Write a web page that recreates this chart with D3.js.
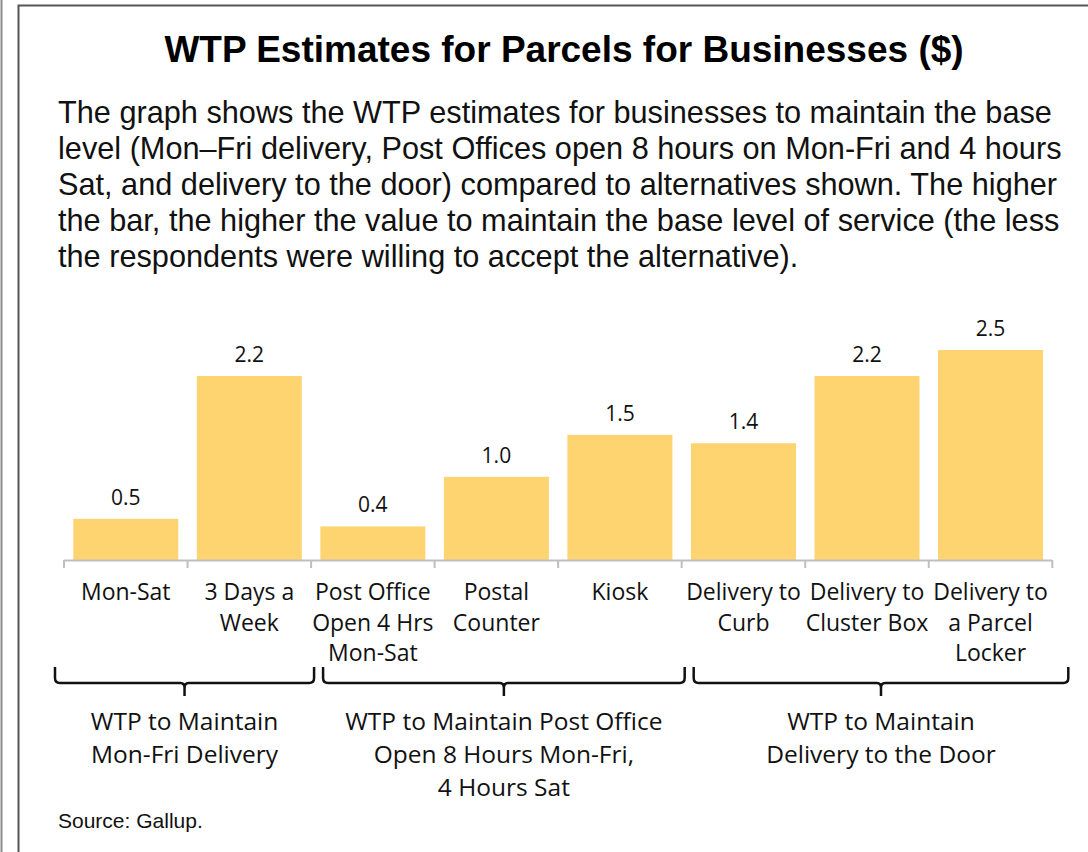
<!DOCTYPE html>
<html>
<head>
<meta charset="utf-8">
<script src="https://cdn.jsdelivr.net/npm/d3@7"></script>
<style>
  body { margin: 0; background: #fff; }
  svg { display: block; }
</style>
</head>
<body>
<svg width="1088" height="852"></svg>
<script>
// categories (each label is split into lines)
var categories = [
  ['Mon-Sat'],
  ['3 Days a', 'Week'],
  ['Post Office', 'Open 4 Hrs', 'Mon-Sat'],
  ['Postal', 'Counter'],
  ['Kiosk'],
  ['Delivery to', 'Curb'],
  ['Delivery to', 'Cluster Box'],
  ['Delivery to', 'a Parcel', 'Locker']
];

// WTP estimates ($)
var values = [0.49, 2.19, 0.40, 0.99, 1.49, 1.39, 2.19, 2.50];

// groups of categories: [first index, last index]
var groupSpans = [[0, 1], [2, 4], [5, 7]];
var groupLabels = [
  ['WTP to Maintain', 'Mon-Fri Delivery'],
  ['WTP to Maintain Post Office', 'Open 8 Hours Mon-Fri,', '4 Hours Sat'],
  ['WTP to Maintain', 'Delivery to the Door']
];

var titleText = 'WTP Estimates for Parcels for Businesses ($)';
var noteLines = [
  'The graph shows the WTP estimates for businesses to maintain the base',
  'level (Mon\u2013Fri delivery, Post Offices open 8 hours on Mon-Fri and 4 hours',
  'Sat, and delivery to the door) compared to alternatives shown. The higher',
  'the bar, the higher the value to maintain the base level of service (the less',
  'the respondents were willing to accept the alternative).'
];
var sourceText = 'Source: Gallup.';

var svg = d3.select('svg');
var labelFont = '"Open Sans", "Noto Sans", sans-serif';
var arial = '"Liberation Sans", Arial, sans-serif';

// frame
svg.append('line')
  .attr('x1', 1.5).attr('x2', 1.5).attr('y1', 0).attr('y2', 852)
  .attr('stroke', '#8a8a8a').attr('stroke-width', 2);
svg.append('path')
  .attr('d', 'M18.5,852 V5.5 H1088')
  .attr('fill', 'none').attr('stroke', '#555').attr('stroke-width', 2);

// title
svg.append('text')
  .attr('x', 564).attr('y', 62)
  .attr('text-anchor', 'middle')
  .style('font-family', arial).style('font-weight', 'bold').style('font-size', '37px')
  .text(titleText);

// description
svg.append('g').selectAll('text').data(noteLines)
  .enter().append('text')
    .attr('x', 58).attr('y', (d, i) => 123 + i * 36)
    .style('font-family', arial).style('font-size', '30.7px').style('fill', '#111')
    .text(d => d);

// scales
var x = d3.scaleBand()
  .domain(d3.range(values.length))
  .range([64, 1052.3])
  .paddingInner(0.15)
  .paddingOuter(0.075);

var y = d3.scaleLinear()
  .domain([0, 2.5])
  .range([560, 350]);

var fmt = d3.format('.1f');

// bars
svg.append('g').selectAll('rect').data(values)
  .enter().append('rect')
    .attr('x', (d, i) => x(i))
    .attr('y', d => y(d))
    .attr('width', x.bandwidth())
    .attr('height', d => y(0) - y(d))
    .attr('fill', '#FED470');

// value labels
svg.append('g').selectAll('text').data(values)
  .enter().append('text')
    .attr('x', (d, i) => x(i) + x.bandwidth() / 2)
    .attr('y', d => y(d) - 14)
    .attr('text-anchor', 'middle')
    .style('font-family', labelFont).style('font-size', '21px').style('fill', '#111')
    .text(d => fmt(d));

// axis line with ticks at the band boundaries
var half = x.step() * x.paddingInner() / 2;
var bounds = x.domain().map(i => x(i) - half).concat([x(values.length - 1) + x.bandwidth() + half]);
var axis = svg.append('g').attr('stroke', '#bfbfbf').attr('stroke-width', 2);
axis.append('line')
  .attr('x1', bounds[0]).attr('x2', bounds[bounds.length - 1])
  .attr('y1', y(0) + 0.5).attr('y2', y(0) + 0.5);
axis.selectAll('.tick').data(bounds)
  .enter().append('line')
    .attr('x1', d => d).attr('x2', d => d)
    .attr('y1', y(0)).attr('y2', y(0) + 8);

// category labels
var cat = svg.append('g').selectAll('text').data(categories)
  .enter().append('text')
    .attr('text-anchor', 'middle')
    .style('font-family', labelFont).style('font-size', '23px').style('fill', '#111');
cat.selectAll('tspan').data((d, i) => d.map(s => ({s: s, i: i})))
  .enter().append('tspan')
    .attr('x', d => x(d.i) + x.bandwidth() / 2)
    .attr('y', (d, j) => 600 + j * 30.5)
    .text(d => d.s);

// group brackets (outer ones reach a little past the axis ends)
var by = 683;
var last = values.length - 1;
groupSpans.forEach(function(g, k) {
  var l = bounds[g[0]] + (g[0] === 0 ? -9 : 12);
  var r = bounds[g[1] + 1] + (g[1] === last ? 16 : 3);
  var cx = (l + r) / 2;
  var p = 'M' + l + ',667 V678 Q' + l + ',' + by + ' ' + (l + 5) + ',' + by +
          ' H' + (cx - 4) + ' Q' + cx + ',' + by + ' ' + cx + ',' + (by + 5) + ' V696' +
          ' M' + cx + ',' + (by + 5) + ' Q' + cx + ',' + by + ' ' + (cx + 4) + ',' + by +
          ' H' + (r - 5) + ' Q' + r + ',' + by + ' ' + r + ',678 V667';
  svg.append('path').attr('d', p)
    .attr('fill', 'none').attr('stroke', '#111').attr('stroke-width', 2.5);

  var t = svg.append('text')
    .attr('text-anchor', 'middle')
    .style('font-family', labelFont).style('font-size', '24.5px').style('fill', '#111');
  t.selectAll('tspan').data(groupLabels[k])
    .enter().append('tspan')
      .attr('x', cx)
      .attr('y', (d, j) => 730 + j * 33)
      .text(d => d);
});

// source
svg.append('text')
  .attr('x', 58).attr('y', 828)
  .style('font-family', arial).style('font-size', '21px').style('fill', '#111')
  .text(sourceText);
</script>
</body>
</html>
